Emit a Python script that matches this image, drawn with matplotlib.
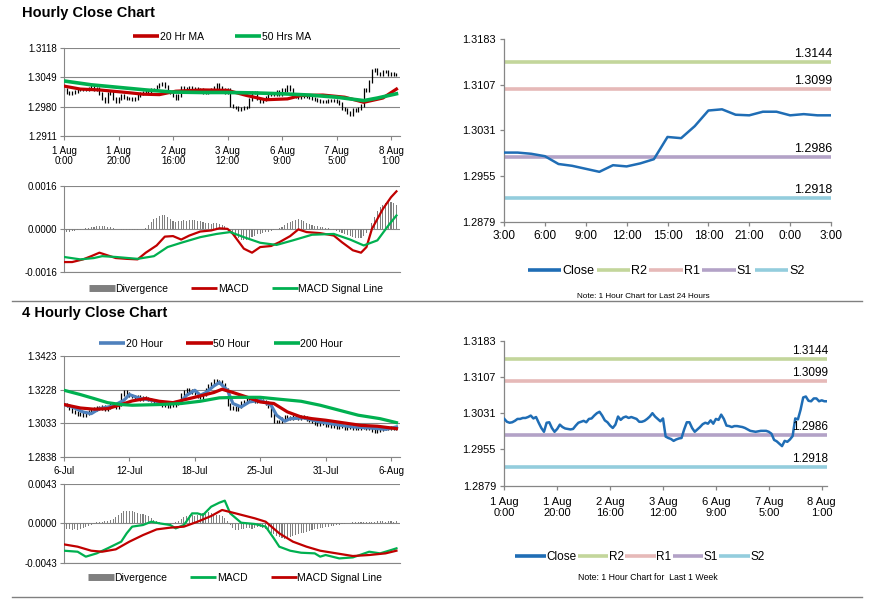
import matplotlib
matplotlib.use('Agg')
import matplotlib.pyplot as plt
from matplotlib.lines import Line2D
import numpy as np

W, H = 873, 601
plt.rcParams['font.family'] = ['Liberation Sans', 'DejaVu Sans']

RED = '#c00000'
GREEN = '#00b050'
BLUE20 = '#4f81bd'
CLOSE_BLUE = '#1f6db5'
DIV_GRAY = '#7f7f7f'
GRID = '#868686'

# ---------------- hourly data (1 Aug 0:00 .. 8 Aug 2:00) ----------------
hourly_close = [
    1.3019, 1.3013, 1.3011, 1.3012, 1.3015, 1.3019, 1.3019, 1.3021, 1.3021, 1.3023,
    1.3026, 1.3020, 1.3023, 1.3011, 1.3000, 1.2992, 1.3011, 1.3012, 1.3000, 1.2992,
    1.2998, 1.3007, 1.3002, 1.2999, 1.2998, 1.2997, 1.2998, 1.3005, 1.3011, 1.3013,
    1.3015, 1.3012, 1.3019, 1.3020, 1.3026, 1.3031, 1.3034, 1.3026, 1.3016, 1.3012,
    1.3005, 1.3000, 1.3007, 1.3024, 1.3017, 1.3022, 1.3024, 1.3021, 1.3023, 1.3021,
    1.3019, 1.3013, 1.3013, 1.3015, 1.3019, 1.3024, 1.3031, 1.3024, 1.3019, 1.3014,
    1.3020, 1.2982, 1.2979, 1.2977, 1.2973, 1.2976, 1.2978, 1.2979, 1.2997, 1.3012,
    1.3012, 1.3000, 1.2992, 1.2997, 1.3002, 1.3008, 1.3011, 1.3009, 1.3016, 1.3009,
    1.3019, 1.3017, 1.3028, 1.3019, 1.3005, 1.3004, 1.3002, 1.3004, 1.3004, 1.3003,
    1.3002, 1.3000, 1.2997, 1.2994, 1.2993, 1.2992, 1.2993, 1.2994, 1.2994, 1.2994,
    1.2992, 1.2988, 1.2975, 1.2972, 1.2967, 1.2962, 1.2973, 1.2971, 1.2976, 1.2983,
    1.3020, 1.3018, 1.3038, 1.3064, 1.3066, 1.3057, 1.3056, 1.3062, 1.3062, 1.3056,
    1.3058, 1.3056, 1.3056,
]
hourly_ticks = [0, 20, 40, 60, 80, 100, 120]
hourly_labels = ['1 Aug\n0:00', '1 Aug\n20:00', '2 Aug\n16:00', '3 Aug\n12:00',
                 '6 Aug\n9:00', '7 Aug\n5:00', '8 Aug\n1:00']

ma20_h_idx = [0, 6, 13, 23, 29, 35, 41, 51, 60, 67, 74, 82, 87, 95, 103, 110, 117, 122]
ma20_h = [1.3028, 1.3021, 1.3019, 1.3013, 1.3009, 1.3008, 1.3016, 1.3019, 1.3018,
          1.3006, 1.2996, 1.2998, 1.3006, 1.3007, 1.3002, 1.2990, 1.3000, 1.3021]
ma50_h_idx = [0, 10, 20, 30, 40, 50, 60, 70, 80, 90, 100, 105, 110, 115, 122]
ma50_h = [1.3040, 1.3031, 1.3025, 1.3019, 1.3014, 1.3013, 1.3013, 1.3012, 1.3010,
          1.3007, 1.3002, 1.2998, 1.2994, 1.3000, 1.3010]

# divergence in pips (1e-4)
hourly_div_pips = [
    -1.2, -1.0, -1.0, -0.8, -0.8, -0.6, -0.4, -0.2,
    0.2, 0.4, 0.6, 0.8, 1.0, 1.2, 1.2, 1.0, 0.8, 0.6, 0.3,
    0.0, -0.2, -0.4, -0.5, -0.5, -0.4, -0.4, -0.3, -0.3, -0.2, 0.0,
    0.5, 1.5, 2.5, 3.5, 4.2, 4.8, 5.2, 5.0, 4.5, 3.8,
    3.0, 2.5, 2.8, 3.0, 3.2, 3.0, 3.2, 3.4, 3.2, 3.0,
    2.8, 2.5, 2.2, 2.0, 1.8, 2.0, 2.2, 1.8, 1.5, 1.2,
    0.5, -0.5, -1.5, -2.5, -3.5, -4.0, -4.3, -4.0, -3.5, -3.0,
    -2.5, -2.0, -1.8, -1.5, -1.2, -1.0, -0.8, -0.5, -0.2, 0.2,
    0.8, 1.4, 2.0, 2.5, 3.0, 3.4, 3.6, 3.3, 2.8, 2.2,
    1.8, 1.5, 1.2, 1.0, 0.8, 0.6, 0.4, 0.2, 0.0, -0.4,
    -0.8, -1.2, -1.6, -2.0, -2.4, -2.8, -3.2, -3.5, -3.6, -3.4,
    -2.8, -1.5, 0.0, 2.0, 4.5, 6.5, 8.0, 9.0, 9.8, 10.2, 10.0, 9.6, 9.0,
]
macd_h_idx = [0, 3, 7, 10, 13, 16, 19, 23, 27, 30, 34, 37, 40, 43, 46, 50, 54, 57, 60,
              62, 66, 69, 72, 76, 79, 83, 86, 89, 94, 99, 102, 106, 109, 111, 113,
              117, 120, 122]
macd_h = [-0.00124, -0.00124, -0.00114, -0.00102, -0.00089, -0.00099, -0.00109,
          -0.00112, -0.00114, -0.00089, -0.00062, -0.00029, -0.00027, -0.00040,
          -0.00025, -0.00010, -0.00006, 0.00002, 0.00000, -0.00019, -0.00074,
          -0.00089, -0.00068, -0.00064, -0.00050, -0.00027, -0.00002, -0.00012,
          -0.00016, -0.00025, -0.00050, -0.00080, -0.00089, -0.00068, 0.00000,
          0.00074, 0.00118, 0.00140]
signal_h_idx = [0, 6, 11, 14, 19, 27, 33, 38, 43, 50, 56, 61, 66, 72, 78, 84, 91, 99,
                105, 110, 115, 119, 122]
signal_h = [-0.00105, -0.00114, -0.00109, -0.00102, -0.00105, -0.00112, -0.00102,
            -0.00068, -0.00052, -0.00031, -0.00019, -0.00012, -0.00031, -0.00052,
            -0.00060, -0.00043, -0.00022, -0.00019, -0.00040, -0.00062, -0.00043,
            0.00012, 0.00050]

# last 24 hours: 7 Aug 3:00 .. 8 Aug 3:00
last24_close = hourly_close[98:123]
last24_labels = ['3:00', '6:00', '9:00', '12:00', '15:00', '18:00', '21:00', '0:00', '3:00']

level_names = ['R2', 'R1', 'S1', 'S2']
level_values = [1.3144, 1.3099, 1.2986, 1.2918]
level_colors = ['#c3d69b', '#e6b9b8', '#b3a2c7', '#93cddd']

# ---------------- 4 hourly data (6 Jul .. 6 Aug) ----------------
h4_close = [
    1.3140, 1.3135, 1.3120,
    1.3100, 1.3095, 1.3085, 1.3090, 1.3080, 1.3092,
    1.3100, 1.3110, 1.3115, 1.3125, 1.3120,
    1.3130, 1.3115, 1.3125, 1.3140, 1.3135, 1.3125, 1.3140,
    1.3200, 1.3215, 1.3205, 1.3195, 1.3190,
    1.3180, 1.3185, 1.3170, 1.3180, 1.3175,
    1.3170, 1.3165, 1.3160, 1.3150, 1.3145, 1.3135,
    1.3140, 1.3130, 1.3145, 1.3135, 1.3150,
    1.3160, 1.3200, 1.3215, 1.3230, 1.3210, 1.3225,
    1.3205, 1.3190, 1.3185, 1.3200, 1.3230, 1.3250,
    1.3265, 1.3280, 1.3270, 1.3275, 1.3255, 1.3230,
    1.3140, 1.3120, 1.3125, 1.3115, 1.3130, 1.3150,
    1.3160, 1.3170, 1.3165, 1.3175, 1.3160, 1.3170, 1.3165,
    1.3160, 1.3150, 1.3130, 1.3080, 1.3045, 1.3040,
    1.3045, 1.3060, 1.3070, 1.3065, 1.3060, 1.3070,
    1.3065, 1.3060, 1.3070, 1.3065, 1.3055, 1.3050, 1.3045,
    1.3030, 1.3025, 1.3035, 1.3030, 1.3020, 1.3025,
    1.3015, 1.3020, 1.3010, 1.3025, 1.3015, 1.3005, 1.3010,
    1.3015, 1.3005, 1.3010, 1.3000, 1.3010, 1.3015, 1.3005, 1.3010,
    1.2990, 1.2985, 1.2990, 1.2995, 1.3000,
    1.3005, 1.3000, 1.3010, 1.3005, 1.3010,
]
h4_ticks = [0, 24, 48, 72, 96, 120]
h4_labels = ['6-Jul', '12-Jul', '18-Jul', '25-Jul', '31-Jul', '6-Aug']

ma20_4h_idx = [0, 3, 7, 10, 13, 18, 22, 24, 28, 32, 35, 39, 43, 45, 48, 50, 52, 55,
               57, 60, 62, 65, 68, 72, 76, 78, 81, 83, 88, 94, 100, 106, 112, 118, 122]
ma20_4h = [1.3141, 1.3127, 1.3098, 1.3088, 1.3117, 1.3133, 1.3166, 1.3199, 1.3176,
           1.3166, 1.3156, 1.3147, 1.3160, 1.3195, 1.3224, 1.3195, 1.3210, 1.3249,
           1.3269, 1.3224, 1.3147, 1.3127, 1.3156, 1.3166, 1.3137, 1.3079, 1.3044,
           1.3059, 1.3063, 1.3040, 1.3024, 1.3011, 1.3005, 1.2997, 1.3011]
ma50_4h_idx = [0, 6, 11, 16, 21, 25, 30, 35, 40, 45, 50, 55, 58, 62, 67, 72, 77, 82,
               87, 91, 96, 102, 109, 115, 122]
ma50_4h = [1.3141, 1.3121, 1.3114, 1.3117, 1.3141, 1.3162, 1.3176, 1.3160, 1.3152,
           1.3172, 1.3191, 1.3211, 1.3230, 1.3211, 1.3185, 1.3156, 1.3147, 1.3098,
           1.3069, 1.3059, 1.3050, 1.3036, 1.3020, 1.3015, 1.3001]
ma200_4h_idx = [0, 6, 11, 16, 21, 25, 35, 43, 50, 57, 64, 72, 79, 87, 94, 101, 108,
                116, 122]
ma200_4h = [1.3224, 1.3199, 1.3176, 1.3152, 1.3141, 1.3137, 1.3141, 1.3147, 1.3160,
            1.3180, 1.3183, 1.3183, 1.3172, 1.3160, 1.3137, 1.3108, 1.3079, 1.3059,
            1.3036]

h4_div_pips = [
    -6, -6, -6, -7, -6, -7, -6, -5, -4, -3, -2, -1,
    1, 2, 2, 3, 3, 4, 5, 7, 9, 11, 13, 14,
    14, 13, 12, 11, 10, 10, 9, 8, 6, 4, 3, 1,
    0, -1, -1, -2, -1, 1, 3, 5, 7, 8, 9, 9,
    8, 9, 10, 11, 11, 12, 11, 10, 9, 9, 8, 6,
    3, -2, -5, -7, -7, -6, -6, -5, -5, -6, -5, -4,
    -4, -5, -6, -8, -10, -12, -14, -15, -16, -17, -16, -15,
    -14, -13, -12, -11, -10, -9, -8, -7, -6, -6, -5, -5,
    -4, -4, -3, -3, -2, -2, -1, -1, 0, 0, 1, 1,
    1, 1, 2, 2, 2, 2, 2, 3, 3, 3, 2, 3, 3, 2, 3,
]
macd_4h_idx = [0, 5, 8, 12, 16, 21, 23, 25, 29, 32, 35, 39, 41, 44, 47, 49, 51, 54,
               57, 59, 61, 65, 70, 74, 77, 79, 83, 87, 92, 94, 96, 101, 106, 112,
               116, 120, 122]
macd_4h = [-0.00299, -0.00310, -0.00364, -0.00328, -0.00273, -0.00200, -0.00109,
           -0.00036, -0.00018, 0.00018, 0.00000, -0.00018, -0.00055, -0.00018,
           0.00109, 0.00109, 0.00091, 0.00182, 0.00226, 0.00248, 0.00109, 0.00007,
           -0.00007, -0.00036, -0.00164, -0.00255, -0.00299, -0.00321, -0.00328,
           -0.00364, -0.00346, -0.00383, -0.00372, -0.00310, -0.00328, -0.00292,
           -0.00273]
signal_4h_idx = [0, 5, 10, 14, 19, 24, 29, 34, 39, 44, 49, 54, 58, 63, 70, 74, 79,
                 84, 89, 94, 100, 106, 112, 118, 122]
signal_4h = [-0.00230, -0.00255, -0.00299, -0.00310, -0.00284, -0.00200, -0.00128,
             -0.00066, -0.00047, -0.00036, 0.00018, 0.00080, 0.00146, 0.00109,
             0.00055, 0.00018, -0.00109, -0.00200, -0.00255, -0.00299, -0.00328,
             -0.00357, -0.00346, -0.00328, -0.00299]


def px_box(left, top, right, bottom):
    return [left / W, 1 - bottom / H, (right - left) / W, (bottom - top) / H]


def fig_xy(x, y):
    return (x / W, 1 - y / H)


def style_left_axes(ax, xmax):
    ax.set_xlim(0, xmax)
    for side in ['top', 'right']:
        ax.spines[side].set_visible(False)
    for side in ['left', 'bottom']:
        ax.spines[side].set_color(GRID)
        ax.spines[side].set_linewidth(0.8)
    ax.tick_params(colors=GRID, labelcolor='black', labelsize=7, length=3, width=0.8, pad=2)
    ax.tick_params(axis='x', pad=4)
    ax.grid(axis='y', color=GRID, lw=0.8)
    ax.set_axisbelow(True)


def set_yticks(ax, ticks, lims, **kw):
    ax.set_ylim(*lims)
    ax.set_yticks(ticks)
    ax.set_yticklabels([f'{t:.4f}' for t in ticks], **kw)


# bars span previous close -> close; "wick" only gives each bar a visible minimum length
def price_bars(ax, close, wick):
    close = np.asarray(close)
    idx = np.arange(len(close))
    prev = np.r_[close[0], close[:-1]]
    ax.vlines(idx, np.minimum(prev, close) - wick, np.maximum(prev, close) + wick,
              color='black', lw=0.9, zorder=2)


def add_legend(ax, handles, labels, cx, cy, fontsize=7.5, **kw):
    opts = dict(loc='center', bbox_to_anchor=fig_xy(cx, cy), bbox_transform=fig.transFigure,
                ncol=len(handles), frameon=False, fontsize=fontsize, handlelength=2.5,
                handletextpad=0.05, columnspacing=2.2, borderpad=0, borderaxespad=0)
    opts.update(kw)
    ax.legend(handles, labels, **opts)


def line_handle(color, lw):
    return Line2D([], [], color=color, lw=lw, solid_capstyle='butt')


def level_panel(ax, close, xmax, label_size):
    idx = np.arange(len(close))
    for val, col in zip(level_values, level_colors):
        ax.axhline(val, color=col, lw=2.6, zorder=2)
        ax.annotate(f'{val:.4f}', xy=(1, val), xycoords=('axes fraction', 'data'),
                    xytext=(1, 1.5), textcoords='offset points', ha='right', va='bottom',
                    fontsize=label_size, zorder=4)
    ax.plot(idx, close, color=CLOSE_BLUE, lw=1.8, zorder=3)
    ax.set_xlim(0, xmax)
    for side in ['top', 'right']:
        ax.spines[side].set_visible(False)
    for side in ['left', 'bottom']:
        ax.spines[side].set_color(GRID)
        ax.spines[side].set_linewidth(0.9)
    ax.tick_params(colors=GRID, labelcolor='black', length=3, width=0.9, pad=3)
    ticks = [1.2879, 1.2955, 1.3031, 1.3107, 1.3183]
    set_yticks(ax, ticks, (1.2879, 1.3183), fontsize=7.8)


fig = plt.figure(figsize=(W / 100, H / 100), dpi=100)

# ---------------- Hourly close chart ----------------
fig.text(22 / W, 1 - 13 / H, 'Hourly Close Chart', fontsize=10.5, fontweight='bold', va='center')

ax1 = fig.add_axes(px_box(64, 47.7, 400, 136))
price_bars(ax1, hourly_close, 0.00035)
ax1.plot(ma20_h_idx, ma20_h, color=RED, lw=2.3, zorder=3)
ax1.plot(ma50_h_idx, ma50_h, color=GREEN, lw=2.6, zorder=3)
style_left_axes(ax1, 123.3)
set_yticks(ax1, [1.2911, 1.2980, 1.3049, 1.3118], (1.2911, 1.3118))
ax1.set_xticks(hourly_ticks)
ax1.set_xticklabels(hourly_labels, linespacing=1.0)
add_legend(ax1, [line_handle(RED, 2.6), line_handle(GREEN, 2.6)], ['20 Hr MA', '50 Hrs MA'],
           222, 37, columnspacing=3.0)

ax2 = fig.add_axes(px_box(64, 186, 400, 271.7))
ax2.bar(np.arange(len(hourly_div_pips)), np.array(hourly_div_pips) / 1e4, width=0.4,
        color=DIV_GRAY, zorder=2)
ax2.plot(macd_h_idx, macd_h, color=RED, lw=1.6, zorder=3)
ax2.plot(signal_h_idx, signal_h, color=GREEN, lw=1.6, zorder=3)
style_left_axes(ax2, 123.3)
set_yticks(ax2, [-0.0016, 0.0, 0.0016], (-0.0016, 0.0016))
ax2.set_xticks([])
add_legend(ax2, [line_handle(DIV_GRAY, 5), line_handle(RED, 2), line_handle(GREEN, 2)],
           ['Divergence', 'MACD', 'MACD Signal Line'], 236, 289)

# last 24 hours with support / resistance
ax3 = fig.add_axes(px_box(504, 39, 831, 221.7))
level_panel(ax3, last24_close, 24, 9)
ax3.set_xticks(range(0, 25, 3))
ax3.set_xticklabels(last24_labels, fontsize=8.5)
add_legend(ax3, [line_handle(CLOSE_BLUE, 2.6)] + [line_handle(c, 2.6) for c in level_colors],
           ['Close'] + level_names, 666, 271, fontsize=9, handlelength=2.7, columnspacing=0.2)
fig.text(643 / W, 1 - 296 / H, 'Note: 1 Hour Chart for Last 24 Hours', fontsize=5.9,
         ha='center', va='center')

# ---------------- 4 Hourly close chart ----------------
fig.text(22 / W, 1 - 313 / H, '4 Hourly Close Chart', fontsize=10.5, fontweight='bold', va='center')

ax4 = fig.add_axes(px_box(64, 356, 400, 456.7))
price_bars(ax4, h4_close, 0.0009)
ax4.plot(ma20_4h_idx, ma20_4h, color=BLUE20, lw=2.3, zorder=3)
ax4.plot(ma50_4h_idx, ma50_4h, color=RED, lw=2.3, zorder=3)
ax4.plot(ma200_4h_idx, ma200_4h, color=GREEN, lw=2.3, zorder=3)
style_left_axes(ax4, 123.3)
set_yticks(ax4, [1.2838, 1.3033, 1.3228, 1.3423], (1.2838, 1.3423))
ax4.set_xticks(h4_ticks)
ax4.set_xticklabels(h4_labels)
add_legend(ax4, [line_handle(BLUE20, 2.6), line_handle(RED, 2.6), line_handle(GREEN, 2.6)],
           ['20 Hour', '50 Hour', '200 Hour'], 221, 344, columnspacing=2.3)

ax5 = fig.add_axes(px_box(64, 484, 400, 562.7))
ax5.bar(np.arange(len(h4_div_pips)), np.array(h4_div_pips) / 1e4, width=0.4,
        color=DIV_GRAY, zorder=2)
ax5.plot(macd_4h_idx, macd_4h, color=GREEN, lw=1.6, zorder=3)
ax5.plot(signal_4h_idx, signal_4h, color=RED, lw=1.6, zorder=3)
style_left_axes(ax5, 123.3)
set_yticks(ax5, [-0.0043, 0.0, 0.0043], (-0.0043, 0.0043))
ax5.set_xticks([])
add_legend(ax5, [line_handle(DIV_GRAY, 5), line_handle(GREEN, 2), line_handle(RED, 2)],
           ['Divergence', 'MACD', 'MACD Signal Line'], 235, 578)

# last week hourly with support / resistance
ax6 = fig.add_axes(px_box(504.3, 340.7, 827, 485.7))
level_panel(ax6, hourly_close, 122, 8.5)
ax6.set_xticks(hourly_ticks)
ax6.set_xticklabels(hourly_labels, fontsize=8, linespacing=1.15)
ax6.tick_params(axis='x', pad=5)
add_legend(ax6, [line_handle(CLOSE_BLUE, 2.6)] + [line_handle(c, 2.6) for c in level_colors],
           ['Close'] + level_names, 640, 557, fontsize=8.5, handlelength=2.6, columnspacing=0.1)
fig.text(648 / W, 1 - 578 / H, 'Note: 1 Hour Chart for  Last 1 Week', fontsize=6.3,
         ha='center', va='center')

# separators between the two blocks
for y in [300.5, 596.7]:
    fig.add_artist(Line2D([12 / W, 862 / W], [1 - y / H, 1 - y / H], color='#808080', lw=1.0))

fig.savefig('out.png', dpi=100)
